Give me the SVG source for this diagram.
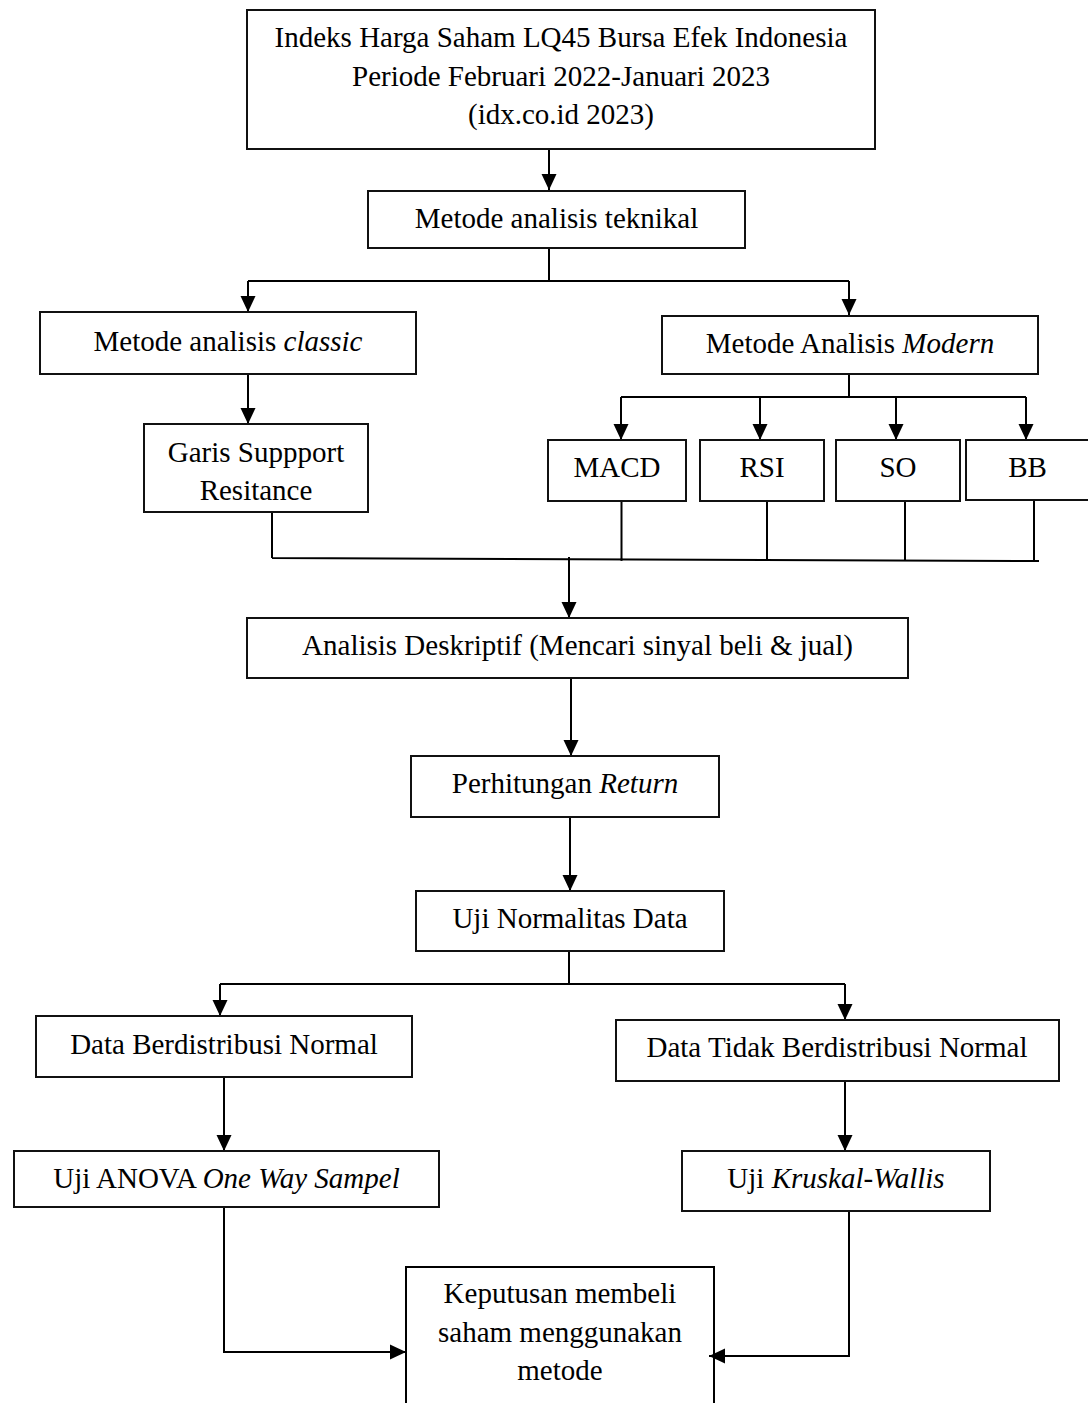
<svg xmlns="http://www.w3.org/2000/svg" width="1088" height="1403" viewBox="0 0 1088 1403">
<defs>
<marker id="arr" markerUnits="userSpaceOnUse" markerWidth="18" markerHeight="18" viewBox="0 0 18 18" refX="17" refY="9" orient="auto">
<path d="M1,1.5 L17,9 L1,16.5 z" fill="#000"/>
</marker>
<style>
.box{fill:#fff;stroke:#111;stroke-width:2}
.t{font-family:"Liberation Serif","Times New Roman",serif;font-size:29px;fill:#000;text-anchor:middle}
.i{font-style:italic}
.c{fill:none;stroke:#000;stroke-width:2}
.a{fill:none;stroke:#000;stroke-width:2;marker-end:url(#arr)}
</style>
</defs>
<rect width="1088" height="1403" fill="#fff"/>
<g id="connectors">
<path class="a" d="M549,149 V190"/>
<path class="c" d="M549,248 V281 M248,281 H849"/>
<path class="a" d="M248,281 V312"/>
<path class="a" d="M849,281 V315"/>
<path class="a" d="M248,374 V424"/>
<path class="c" d="M849,374 V397 M621,397 H1026"/>
<path class="a" d="M621,397 V440"/>
<path class="a" d="M760,397 V440"/>
<path class="a" d="M896,397 V440"/>
<path class="a" d="M1026,397 V440"/>
<path class="c" d="M272,510 V558 M621.5,497 V561 M767,497 V560 M905,497 V560 M1034,495 V561 M272,558 L1039,561"/>
<path class="a" d="M569,557 V618"/>
<path class="a" d="M571,678 V756"/>
<path class="a" d="M570,817 V891"/>
<path class="c" d="M569,951 V984 M220,984 H845"/>
<path class="a" d="M220,984 V1016"/>
<path class="a" d="M845,984 V1020"/>
<path class="a" d="M224,1077 V1151"/>
<path class="a" d="M845,1081 V1151"/>
<path class="a" d="M224,1207 V1352 H406"/>
<path class="a" d="M849,1211 V1356 H709"/>
</g>
<g id="n-lq45">
<rect class="box" x="247" y="10" width="628" height="139"/>
<text class="t" x="561" y="47">Indeks Harga Saham LQ45 Bursa Efek Indonesia</text>
<text class="t" x="561" y="86">Periode Februari 2022-Januari 2023</text>
<text class="t" x="561" y="124">(idx.co.id 2023)</text>
</g>
<g id="n-teknikal">
<rect class="box" x="368" y="191" width="377" height="57"/>
<text class="t" x="556.5" y="228">Metode analisis teknikal</text>
</g>
<g id="n-classic">
<rect class="box" x="40" y="312" width="376" height="62"/>
<text class="t" x="228" y="351">Metode analisis <tspan class="i">classic</tspan></text>
</g>
<g id="n-modern">
<rect class="box" x="662" y="316" width="376" height="58"/>
<text class="t" x="850" y="353">Metode Analisis <tspan class="i">Modern</tspan></text>
</g>
<g id="n-garis">
<rect class="box" x="144" y="424" width="224" height="88"/>
<text class="t" x="256" y="462">Garis Suppport</text>
<text class="t" x="256" y="500">Resitance</text>
</g>
<g id="n-macd">
<rect class="box" x="548" y="440" width="138" height="61"/>
<text class="t" x="617" y="477">MACD</text>
</g>
<g id="n-rsi">
<rect class="box" x="700" y="440" width="124" height="61"/>
<text class="t" x="762" y="477">RSI</text>
</g>
<g id="n-so">
<rect class="box" x="836" y="440" width="124" height="61"/>
<text class="t" x="898" y="477">SO</text>
</g>
<g id="n-bb">
<rect class="box" x="966" y="440" width="140" height="60"/>
<text class="t" x="1027.5" y="477">BB</text>
</g>
<g id="n-deskriptif">
<rect class="box" x="247" y="618" width="661" height="60"/>
<text class="t" x="577.5" y="655">Analisis Deskriptif (Mencari sinyal beli &amp; jual)</text>
</g>
<g id="n-return">
<rect class="box" x="411" y="756" width="308" height="61"/>
<text class="t" x="565" y="793">Perhitungan <tspan class="i">Return</tspan></text>
</g>
<g id="n-normalitas">
<rect class="box" x="416" y="891" width="308" height="60"/>
<text class="t" x="570" y="928">Uji Normalitas Data</text>
</g>
<g id="n-normal">
<rect class="box" x="36" y="1016" width="376" height="61"/>
<text class="t" x="224" y="1054">Data Berdistribusi Normal</text>
</g>
<g id="n-tidak-normal">
<rect class="box" x="616" y="1020" width="443" height="61"/>
<text class="t" x="837" y="1057">Data Tidak Berdistribusi Normal</text>
</g>
<g id="n-anova">
<rect class="box" x="14" y="1151" width="425" height="56"/>
<text class="t" x="226.5" y="1188">Uji ANOVA <tspan class="i">One Way Sampel</tspan></text>
</g>
<g id="n-kruskal">
<rect class="box" x="682" y="1151" width="308" height="60"/>
<text class="t" x="836" y="1188">Uji <tspan class="i">Kruskal-Wallis</tspan></text>
</g>
<g id="n-keputusan">
<path class="c" d="M406,1410 V1267 H714 V1410"/>
<text class="t" x="560" y="1303">Keputusan membeli</text>
<text class="t" x="560" y="1342">saham menggunakan</text>
<text class="t" x="560" y="1380">metode</text>
</g>
</svg>
